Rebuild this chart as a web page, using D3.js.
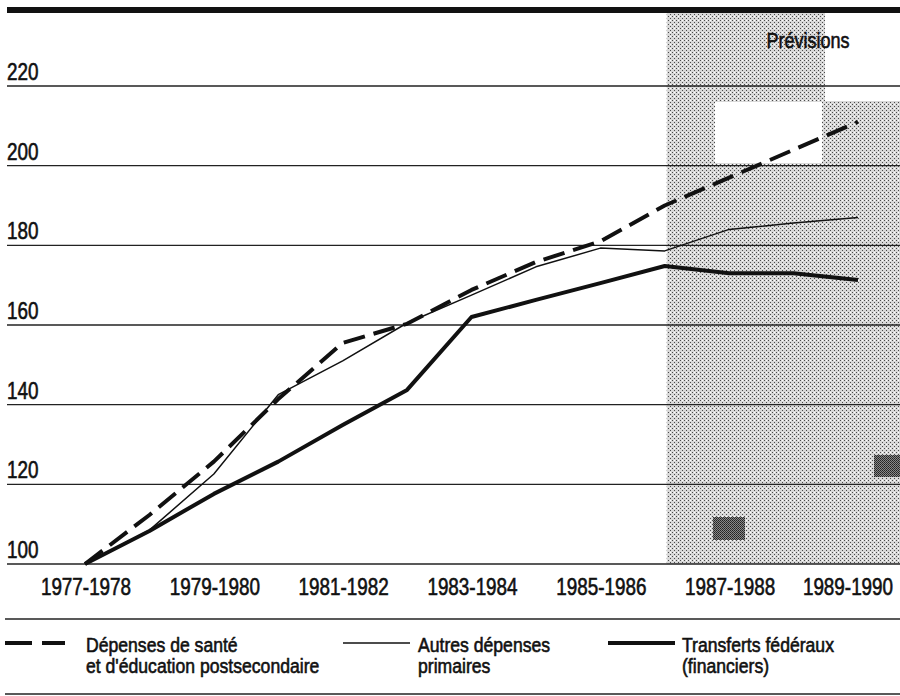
<!DOCTYPE html>
<html>
<head>
<meta charset="utf-8">
<script src="https://cdn.jsdelivr.net/npm/d3@7"></script>
<style>
  body { margin: 0; background: #fff; }
  svg text { font-family: 'Liberation Sans', Arial, sans-serif; fill: #111; stroke: #111; stroke-width: 0.6; }
</style>
</head>
<body>
<svg id="chart"></svg>
<script>
var width = 900;
var height = 696;

// données (indice 1977-1978 = 100)
var years = ["1977-1978", "1978-1979", "1979-1980", "1980-1981", "1981-1982", "1982-1983",
  "1983-1984", "1984-1985", "1985-1986", "1986-1987", "1987-1988", "1988-1989", "1989-1990"];
var sante = [100, 112.3, 125.7, 141.4, 155.5, 160.3, 168.8, 175.8, 181, 190, 197, 204, 211];
var autres = [100, 108.5, 122.6, 142.5, 151, 160.5, 167.5, 174.6, 179.3, 178.6, 184, 185.6, 187];
var transferts = [100, 108.3, 117.6, 125.7, 134.9, 143.7, 162, 166.3, 170.5, 174.8, 173, 173, 171.3];
var yTicks = [100, 120, 140, 160, 180, 200, 220];
var forecastStart = "1986-1987";
var legendLabels = [
  ["Dépenses de santé", "et d'éducation postsecondaire"],
  ["Autres dépenses", "primaires"],
  ["Transferts fédéraux", "(financiers)"]
];

var svg = d3.select("#chart")
    .attr("width", width)
    .attr("height", height);

var xScale = d3.scalePoint()
    .domain(years)
    .range([85, 858]);

var yScale = d3.scaleLinear()
    .domain([100, 220])
    .range([564, 86]);

// police étroite : on resserre le texte mesuré
function narrow(sel, k) {
  sel.each(function() {
    var w = this.getComputedTextLength();
    d3.select(this)
      .attr("textLength", w * (k || 0.82))
      .attr("lengthAdjust", "spacingAndGlyphs");
  });
}

// trames (zone des prévisions)
var defs = svg.append("defs");
var pat = defs.append("pattern")
    .attr("id", "dots")
    .attr("width", 4).attr("height", 4)
    .attr("patternUnits", "userSpaceOnUse");
pat.append("rect").attr("width", 4).attr("height", 4).attr("fill", "#d8d8d8");
pat.append("rect").attr("x", 0).attr("y", 0).attr("width", 1).attr("height", 1).attr("fill", "#4a4a4a");
pat.append("rect").attr("x", 2).attr("y", 2).attr("width", 1).attr("height", 1).attr("fill", "#4a4a4a");
pat.append("rect").attr("x", 2).attr("y", 0).attr("width", 1).attr("height", 1).attr("fill", "#fff");

var pat2 = defs.append("pattern")
    .attr("id", "dark")
    .attr("width", 2).attr("height", 2)
    .attr("patternUnits", "userSpaceOnUse");
pat2.append("rect").attr("width", 2).attr("height", 2).attr("fill", "#888");
pat2.append("rect").attr("width", 1).attr("height", 1).attr("fill", "#222");
pat2.append("rect").attr("x", 1).attr("y", 1).attr("width", 1).attr("height", 1).attr("fill", "#333");

var xf = xScale(forecastStart) + 2;
svg.append("rect")
    .attr("x", xf).attr("y", 13)
    .attr("width", width - xf).attr("height", yScale(100) - 13)
    .attr("fill", "url(#dots)");

// défauts d'impression de l'original
svg.append("rect").attr("x", 825).attr("y", 13).attr("width", 75).attr("height", 88).attr("fill", "#fff");
svg.append("rect").attr("x", 715).attr("y", 102).attr("width", 107).attr("height", 61).attr("fill", "#fff");
svg.append("rect").attr("x", 713).attr("y", 517).attr("width", 32).attr("height", 23).attr("fill", "url(#dark)");
svg.append("rect").attr("x", 874).attr("y", 455).attr("width", 26).attr("height", 22).attr("fill", "url(#dark)");

// filet du haut
svg.append("rect")
    .attr("x", 7).attr("y", 7)
    .attr("width", width - 7).attr("height", 6)
    .attr("fill", "#111");

// quadrillage
svg.append("g")
    .selectAll("line")
    .data(yTicks)
    .enter()
    .append("line")
    .attr("x1", 7).attr("x2", width)
    .attr("y1", function(d) { return yScale(d); })
    .attr("y2", function(d) { return yScale(d); })
    .attr("stroke", "#222")
    .attr("stroke-width", 1.4);

svg.append("g")
    .selectAll("text")
    .data(yTicks)
    .enter()
    .append("text")
    .attr("x", 7)
    .attr("y", function(d) { return yScale(d) - 6; })
    .attr("font-size", 23)
    .text(function(d) { return d; })
    .call(narrow);

// étiquettes des années (une sur deux)
svg.append("g")
    .selectAll("text")
    .data(years.filter(function(d, i) { return i % 2 === 0; }))
    .enter()
    .append("text")
    .attr("x", function(d) { return Math.min(xScale(d) + 1, 848); })
    .attr("y", 595)
    .attr("text-anchor", "middle")
    .attr("font-size", 23)
    .text(function(d) { return d; })
    .call(narrow);

svg.append("text")
    .attr("x", 808).attr("y", 48)
    .attr("text-anchor", "middle")
    .attr("font-size", 22)
    .text("Prévisions")
    .call(narrow);

// courbes
var series = [
  { values: sante, width: 4, dash: "22,9" },
  { values: autres, width: 1.5, dash: null },
  { values: transferts, width: 4, dash: null }
];

var line = d3.line()
    .x(function(d, i) { return xScale(years[i]); })
    .y(function(d) { return yScale(d); });

svg.append("g")
    .selectAll("path")
    .data(series)
    .enter()
    .append("path")
    .attr("d", function(d) { return line(d.values); })
    .attr("fill", "none")
    .attr("stroke", "#111")
    .attr("stroke-width", function(d) { return d.width; })
    .attr("stroke-dasharray", function(d) { return d.dash; })
    .attr("stroke-linejoin", "round");

// légende
svg.append("line").attr("x1", 5).attr("x2", width).attr("y1", 619).attr("y2", 619)
    .attr("stroke", "#222").attr("stroke-width", 1.4);
svg.append("line").attr("x1", 5).attr("x2", width).attr("y1", 694).attr("y2", 694)
    .attr("stroke", "#222").attr("stroke-width", 1.6);

var legendPos = [
  { x1: 5, x2: 65, tx: 86 },
  { x1: 343, x2: 410, tx: 418 },
  { x1: 608, x2: 675, tx: 682 }
];

var legend = svg.append("g")
    .selectAll("g")
    .data(series)
    .enter()
    .append("g");

legend.append("line")
    .attr("x1", function(d, i) { return legendPos[i].x1; })
    .attr("x2", function(d, i) { return legendPos[i].x2; })
    .attr("y1", 643).attr("y2", 643)
    .attr("stroke", "#111")
    .attr("stroke-width", function(d) { return d.width; })
    .attr("stroke-dasharray", function(d) { return d.dash ? "27,10" : null; });

legend.each(function(d, i) {
  d3.select(this).selectAll("text")
    .data(legendLabels[i])
    .enter()
    .append("text")
    .attr("x", legendPos[i].tx)
    .attr("y", function(l, j) { return 652 + j * 20.5; })
    .attr("font-size", 20)
    .text(function(l) { return l; })
    .call(narrow, 0.88);
});
</script>
</body>
</html>
